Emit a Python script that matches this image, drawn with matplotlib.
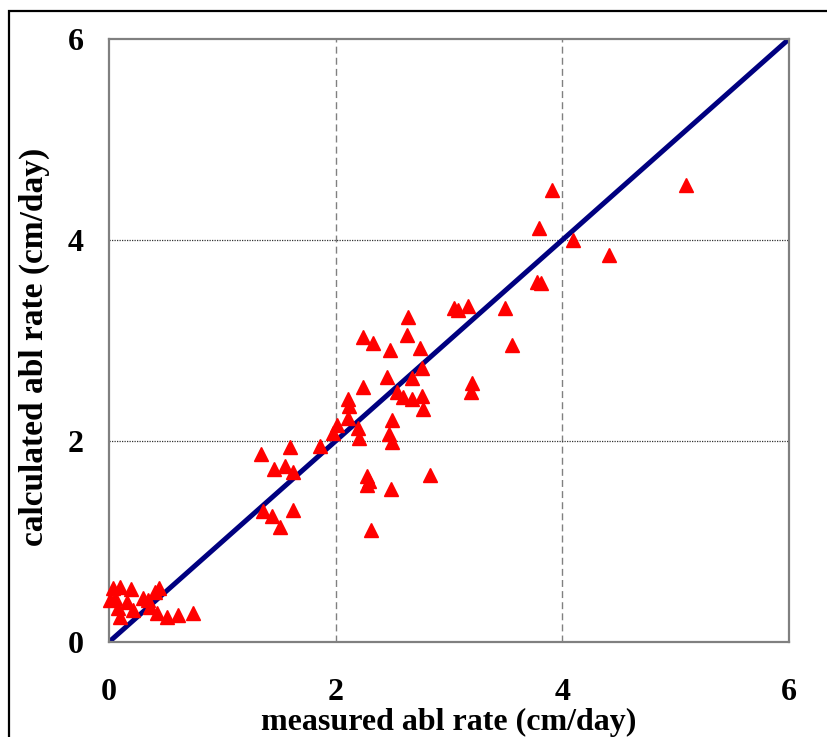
import matplotlib
matplotlib.use("Agg")
import matplotlib.pyplot as plt
from matplotlib.patches import Rectangle

# measured vs calculated ablation rate (cm/day)
measured = [
    0.035, 0.10, 0.19, 0.44, 0.41, 0.01, 0.05, 0.16, 0.30, 0.36, 0.21, 0.08,
    0.10, 0.42, 0.51, 0.61, 0.74, 0.34,
    1.34, 1.60, 1.86, 1.46, 1.55, 1.62, 1.36, 1.44, 1.51, 1.62,
    2.01, 1.98, 2.20, 2.21, 2.64, 2.24, 2.33, 2.63, 2.48, 2.74,
    3.04, 3.08, 3.17, 2.45, 2.76, 2.67, 2.24, 2.54, 2.59, 2.67, 2.76, 2.77,
    2.11, 2.12, 2.11, 2.50, 2.47, 2.50, 3.20, 3.19,
    2.28, 2.29, 2.28, 2.49, 2.83, 2.31,
    3.91, 5.09, 3.79, 4.09, 4.41, 3.78, 3.81, 3.49, 3.56,
]
calculated = [
    0.54, 0.55, 0.53, 0.54, 0.50, 0.42, 0.44, 0.40, 0.44, 0.35, 0.32, 0.34,
    0.25, 0.29, 0.25, 0.27, 0.29, 0.42,
    1.87, 1.94, 1.95, 1.72, 1.75, 1.69, 1.30, 1.25, 1.14, 1.31,
    2.16, 2.08, 2.13, 2.03, 3.23, 3.03, 2.98, 3.05, 2.91, 2.93,
    3.32, 3.30, 3.34, 2.64, 2.73, 2.63, 2.54, 2.49, 2.44, 2.42, 2.45, 2.32,
    2.42, 2.35, 2.23, 2.21, 2.07, 1.99, 2.58, 2.49,
    1.65, 1.60, 1.56, 1.52, 1.66, 1.11,
    4.50, 4.55, 4.12, 4.00, 3.85, 3.58, 3.57, 3.32, 2.96,
]

one_to_one = [0, 6]
ticks = [0, 2, 4, 6]
tick_labels = ["0", "2", "4", "6"]

fig = plt.figure(figsize=(8.28, 7.37), dpi=100)
ax = fig.add_axes([109 / 828, 95 / 737, 680 / 828, 603 / 737])

serif = ["Liberation Serif", "DejaVu Serif"]

ax.plot(one_to_one, one_to_one, color="#000080", lw=3.6, zorder=2,
        solid_capstyle="butt")
ax.plot(measured, calculated, linestyle="none", marker="^", markersize=10,
        color="#ff0000", markeredgecolor="#ff0000", zorder=3, clip_on=False)

ax.set_xlim(0, 6)
ax.set_ylim(0, 6)
ax.set_xticks(ticks)
ax.set_yticks(ticks)
ax.set_xticklabels(tick_labels, fontfamily=serif, fontweight="bold", fontsize=23)
ax.set_yticklabels(tick_labels, fontfamily=serif, fontweight="bold", fontsize=23)
ax.tick_params(axis="x", length=0, pad=26)
ax.tick_params(axis="y", length=0, pad=18)

# grid: dashed grey verticals, dotted dark horizontals
for xv in [2, 4]:
    ax.axvline(xv, color="#808080", lw=1.0, ls=(0, (5, 3)), zorder=1)
for yv in [2, 4]:
    ax.axhline(yv, color="#333333", lw=0.9, ls=(0, (1, 1)), zorder=1)

for sp in ax.spines.values():
    sp.set_color("#808080")
    sp.set_linewidth(1.6)

ax.set_xlabel("measured abl rate (cm/day)", fontfamily=serif,
              fontweight="bold", fontsize=23)
ax.xaxis.set_label_coords(0.5, -0.109)
ax.set_ylabel("calculated abl rate (cm/day)", fontfamily=serif,
              fontweight="bold", fontsize=24)
ax.yaxis.set_label_coords(-0.087, 0.489)

# outer chart border
fig.patches.append(Rectangle((9 / 828, -0.05), 1.2, 1.05 - 11 / 737,
                             transform=fig.transFigure, fill=False,
                             edgecolor="black", lw=1.6))

fig.savefig("out.png", dpi=100)
